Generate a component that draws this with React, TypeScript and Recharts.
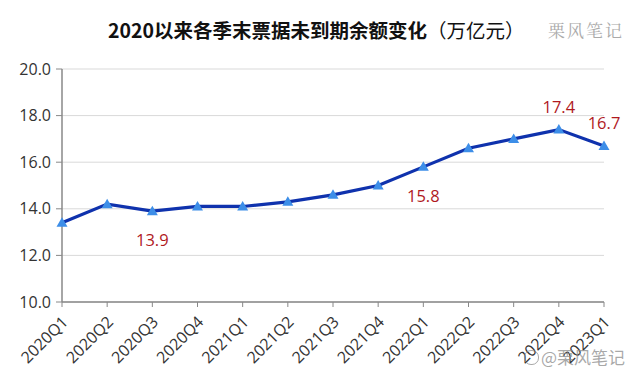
import React from "react";
import {
  LineChart,
  Line,
  CartesianGrid,
  XAxis,
  YAxis,
  LabelList,
} from "recharts";

const quarters = [
  "2020Q1", "2020Q2", "2020Q3", "2020Q4",
  "2021Q1", "2021Q2", "2021Q3", "2021Q4",
  "2022Q1", "2022Q2", "2022Q3", "2022Q4",
  "2023Q1",
];
const balance = [13.4, 14.2, 13.9, 14.1, 14.1, 14.3, 14.6, 15.0, 15.8, 16.6, 17.0, 17.4, 16.7];
// which points carry a value label, and on which side
const labelAbove = ["2022Q4", "2023Q1"];
const labelBelow = ["2020Q3", "2022Q1"];
const yTicks = [10, 12, 14, 16, 18, 20];

const data = quarters.map((q, i) => ({ q, v: balance[i] }));

const FONT = "'Open Sans', 'Noto Sans CJK SC', sans-serif";

function Triangle(props: any) {
  const { cx, cy } = props;
  if (cx == null || cy == null) return null;
  return (
    <path
      d={`M${cx},${cy - 5.5} L${cx + 5.5},${cy + 4} L${cx - 5.5},${cy + 4} Z`}
      fill="#3d8ee8"
    />
  );
}

function XTick(props: any) {
  const { x, y, payload } = props;
  const tx = x + 7;
  const ty = y + 14;
  return (
    <text
      x={tx}
      y={ty}
      transform={`rotate(-45, ${tx}, ${ty})`}
      textAnchor="end"
      fontSize={16}
      fill="#333"
      fontFamily={FONT}
    >
      {payload.value}
    </text>
  );
}

function ValueLabel(props: any) {
  const { x, y, value, index } = props;
  const q = quarters[index];
  let dy = 0;
  if (labelAbove.includes(q)) dy = -17;
  else if (labelBelow.includes(q)) dy = 35;
  else return null;
  return (
    <text
      x={x}
      y={y + dy}
      textAnchor="middle"
      fontSize={16.5}
      fill="#b0191e"
      fontFamily={FONT}
    >
      {value.toFixed(1)}
    </text>
  );
}

export default function App() {
  return (
    <div
      style={{
        position: "absolute",
        left: 0,
        top: 0,
        width: 640,
        height: 383,
        background: "#fff",
        overflow: "hidden",
      }}
    >
      <div
        style={{
          position: "absolute",
          top: 17,
          left: 108,
          whiteSpace: "nowrap",
          fontFamily: "'Noto Sans CJK SC', sans-serif",
          fontSize: 19.5,
          lineHeight: "26px",
          color: "#111",
        }}
      >
        <span style={{ fontWeight: 700 }}>2020以来各季末票据未到期余额变化</span>
        <span>（万亿元）</span>
      </div>
      <div
        style={{
          position: "absolute",
          top: 17,
          left: 548,
          fontFamily: "'Noto Serif CJK SC', 'AR PL UKai CN', serif",
          fontSize: 17,
          lineHeight: "26px",
          color: "#aaa",
          letterSpacing: 2,
          whiteSpace: "nowrap",
        }}
      >
        栗风笔记
      </div>
      <LineChart
        width={640}
        height={383}
        data={data}
        margin={{ top: 69, right: 36, left: 0, bottom: 0 }}
      >
        <CartesianGrid vertical={false} stroke="#d9d9d9" />
        <XAxis
          dataKey="q"
          interval={0}
          height={81}
          tick={<XTick />}
          tickSize={5}
          stroke="#888"
          axisLine={{ stroke: "#888", strokeWidth: 1.5 }}
        />
        <YAxis
          domain={[10, 20]}
          ticks={yTicks}
          width={62}
          tickSize={6}
          tickMargin={5}
          tickFormatter={(v: number) => v.toFixed(1)}
          tick={{ fontSize: 16, fill: "#333", fontFamily: FONT }}
          stroke="#888"
          axisLine={{ stroke: "#888", strokeWidth: 1.5 }}
        />
        <Line
          type="linear"
          dataKey="v"
          stroke="#0f32ad"
          strokeWidth={3.2}
          dot={<Triangle />}
          activeDot={false}
          isAnimationActive={false}
        >
          <LabelList dataKey="v" content={<ValueLabel />} />
        </Line>
      </LineChart>
      <div
        style={{
          position: "absolute",
          left: 524,
          top: 346,
          fontFamily: "'Noto Sans CJK SC', sans-serif",
          fontSize: 17,
          lineHeight: "22px",
          color: "rgba(140,140,140,0.75)",
          whiteSpace: "nowrap",
          display: "flex",
          alignItems: "center",
        }}
      >
        <span
          style={{
            display: "inline-block",
            width: 13,
            height: 13,
            borderRadius: 7,
            border: "1.5px solid rgba(140,140,140,0.75)",
            marginRight: 2,
          }}
        />
        @栗风笔记
      </div>
    </div>
  );
}
